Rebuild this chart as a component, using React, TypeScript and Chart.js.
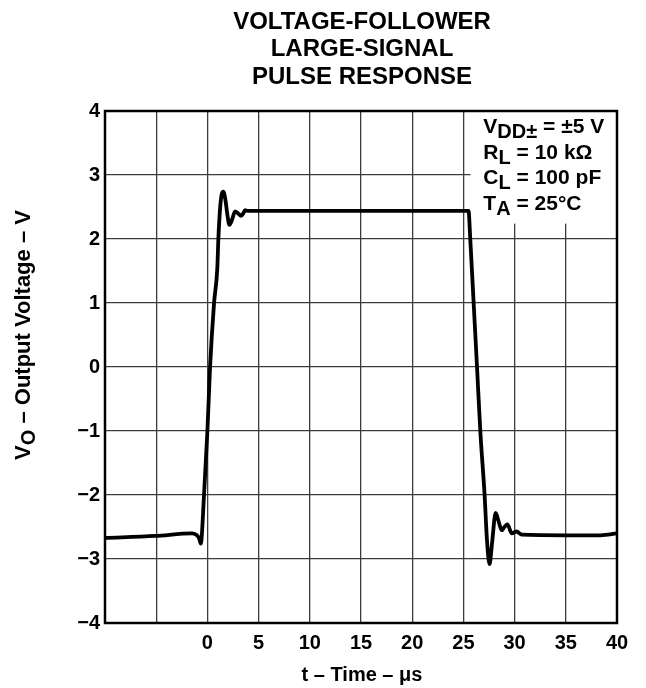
import React, { useEffect, useRef } from 'react';
import { Chart, registerables } from 'chart.js';

Chart.register(...registerables);

// ---- data ----
const timeUs = [
  -10, -5.1, -1.5, -1.1, -0.8, -0.65, -0.33, 0, 0.26, 0.65, 0.97, 1.07, 1.25, 1.4, 1.56,
  1.75, 1.95, 2.15, 2.4, 2.7, 3.0, 3.29, 3.5, 3.68, 3.9,
  25.5, 25.67, 26.0, 26.33, 26.65, 27.07, 27.3, 27.55, 27.8, 28.15, 28.45, 28.75, 29.0, 29.3,
  29.72, 30.2, 30.7, 35, 38.4, 40,
];
const voltsV = [
  -2.67, -2.64, -2.6, -2.62, -2.68, -2.76, -2.0, -1.0, 0.0, 1.0, 1.55, 2.0, 2.5, 2.7, 2.74,
  2.62, 2.38, 2.22, 2.3, 2.43, 2.4, 2.36, 2.4, 2.45, 2.44,
  2.44, 2.0, 1.0, 0.0, -1.0, -2.0, -2.7, -3.08, -2.75, -2.28, -2.42, -2.55, -2.5, -2.46,
  -2.6, -2.57, -2.62, -2.63, -2.63, -2.6,
];
const xMin = -10;
const xMax = 40;
const xStep = 5;
const yMin = -4;
const yMax = 4;
const yStep = 1;
const titleLines = ['VOLTAGE-FOLLOWER', 'LARGE-SIGNAL', 'PULSE RESPONSE'];
const xTitle = 't – Time – μs';
const yTitleMain = 'V';
const yTitleSub = 'O';
const yTitleRest = ' – Output Voltage – V';
const conditionLines: { t: string; sub?: boolean }[][] = [
  [{ t: 'V' }, { t: 'DD±', sub: true }, { t: ' = ±5 V' }],
  [{ t: 'R' }, { t: 'L', sub: true }, { t: ' = 10 kΩ' }],
  [{ t: 'C' }, { t: 'L', sub: true }, { t: ' = 100 pF' }],
  [{ t: 'T' }, { t: 'A', sub: true }, { t: ' = 25°C' }],
];

const FONT = '"Liberation Sans", Arial, Helvetica, sans-serif';

const textPlugin = {
  id: 'textPlugin',
  beforeDatasetsDraw(chart: any) {
    const { ctx, chartArea: a, scales } = chart;
    const xs = scales.x;
    const ys = scales.y;
    // white box behind the test conditions
    const bx = xs.getPixelForValue(25.7);
    const by = ys.getPixelForValue(2.24);
    ctx.save();
    ctx.fillStyle = '#ffffff';
    ctx.fillRect(bx, a.top, a.right - bx, by - a.top);
    ctx.restore();
  },
  afterDraw(chart: any) {
    const { ctx, chartArea: a, scales } = chart;
    const xs = scales.x;
    ctx.save();
    // frame
    ctx.strokeStyle = '#000';
    ctx.lineWidth = 2.5;
    ctx.strokeRect(a.left, a.top, a.right - a.left, a.bottom - a.top);

    ctx.fillStyle = '#000';
    // title
    ctx.font = `bold 24px ${FONT}`;
    ctx.textAlign = 'center';
    ctx.textBaseline = 'alphabetic';
    const cx = 362;
    titleLines.forEach((l, i) => ctx.fillText(l, cx, 28.5 + i * 27.5));

    // x title
    ctx.font = `bold 20px ${FONT}`;
    ctx.fillText(xTitle, cx, 681);

    // y title (rotated)
    ctx.save();
    ctx.translate(30, 335);
    ctx.rotate(-Math.PI / 2);
    ctx.textAlign = 'left';
    const fMain = `bold 22px ${FONT}`;
    const fSub = `bold 20px ${FONT}`;
    ctx.font = fMain;
    const w1 = ctx.measureText(yTitleMain).width;
    ctx.font = fSub;
    const w2 = ctx.measureText(yTitleSub).width;
    ctx.font = fMain;
    const w3 = ctx.measureText(yTitleRest).width;
    let px = -(w1 + w2 + w3) / 2;
    ctx.fillText(yTitleMain, px, 0);
    px += w1;
    ctx.font = fSub;
    ctx.fillText(yTitleSub, px, 5);
    px += w2;
    ctx.font = fMain;
    ctx.fillText(yTitleRest, px, 0);
    ctx.restore();

    // test conditions
    ctx.textAlign = 'left';
    const lx = xs.getPixelForValue(26.95);
    conditionLines.forEach((segs, i) => {
      let x = lx;
      const y = a.top + 22 + i * 25.5;
      segs.forEach((s) => {
        ctx.font = s.sub ? `bold 20px ${FONT}` : `bold 21px ${FONT}`;
        ctx.fillText(s.t, x, s.sub ? y + 5 : y);
        x += ctx.measureText(s.t).width;
      });
    });
    ctx.restore();
  },
};

export default function App() {
  const ref = useRef<HTMLCanvasElement | null>(null);
  useEffect(() => {
    if (!ref.current) return;
    const points = timeUs.map((t, i) => ({ x: t, y: voltsV[i] }));
    const chart = new Chart(ref.current, {
      type: 'line',
      data: {
        datasets: [
          {
            data: points,
            borderColor: '#000',
            borderWidth: 3.8,
            pointRadius: 0,
            cubicInterpolationMode: 'monotone',
            fill: false,
          },
        ],
      },
      options: {
        animation: false,
        responsive: false,
        devicePixelRatio: 1,
        layout: { padding: { top: 111, right: 29, left: 0, bottom: 0 } },
        plugins: { legend: { display: false }, tooltip: { enabled: false }, title: { display: false } },
        scales: {
          x: {
            type: 'linear',
            min: xMin,
            max: xMax,
            afterFit: (s: any) => {
              s.height = 65;
            },
            afterBuildTicks: (s: any) => {
              const t = [];
              for (let v = xMin; v <= xMax; v += xStep) t.push({ value: v });
              s.ticks = t;
            },
            grid: { color: '#3c3c3c', lineWidth: 1.3, drawTicks: false },
            border: { display: false },
            ticks: {
              padding: 8,
              color: '#000',
              font: { family: FONT, size: 20, weight: 'bold' },
              maxRotation: 0,
              autoSkip: false,
              callback: (v: any) => (Number(v) >= 0 ? String(v) : ''),
            },
          },
          y: {
            type: 'linear',
            min: yMin,
            max: yMax,
            afterFit: (s: any) => {
              s.width = 105;
            },
            afterBuildTicks: (s: any) => {
              const t = [];
              for (let v = yMin; v <= yMax; v += yStep) t.push({ value: v });
              s.ticks = t;
            },
            grid: { color: '#3c3c3c', lineWidth: 1.3, drawTicks: false },
            border: { display: false },
            ticks: {
              padding: 5,
              color: '#000',
              font: { family: FONT, size: 20, weight: 'bold' },
              callback: (v: any) => (Number(v) < 0 ? '−' + Math.abs(Number(v)) : String(v)),
            },
          },
        },
      },
      plugins: [textPlugin],
    });
    return () => chart.destroy();
  }, []);
  return (
    <div style={{ position: 'absolute', left: 0, top: 0, width: 646, height: 688, background: '#fff' }}>
      <canvas ref={ref} width={646} height={688} style={{ width: 646, height: 688, display: 'block' }} />
    </div>
  );
}
